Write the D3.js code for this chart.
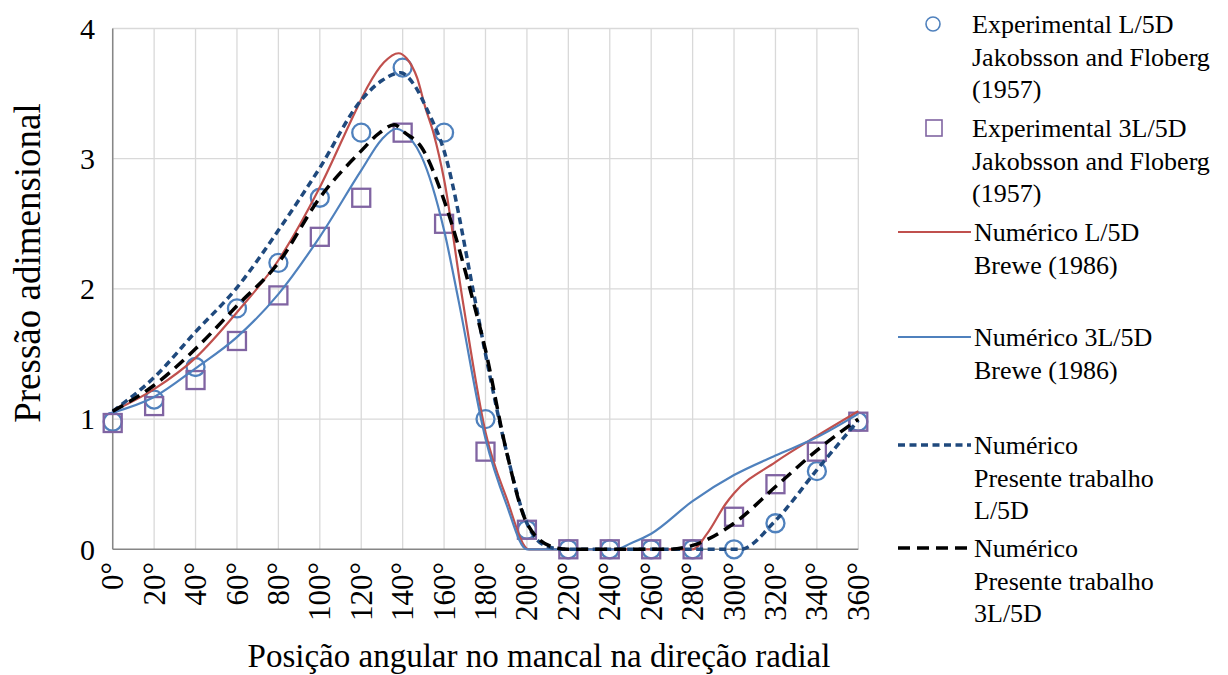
<!DOCTYPE html>
<html>
<head>
<meta charset="utf-8">
<script src="https://cdnjs.cloudflare.com/ajax/libs/d3/7.8.5/d3.min.js"></script>
<style>
  body { margin: 0; background: #fff; }
  text { font-family: "Liberation Serif", "Times New Roman", serif; fill: #000; }
</style>
</head>
<body>
<svg id="chart" width="1228" height="675"></svg>
<script>
// angular positions (categories) and experimental points
var angles = [0, 20, 40, 60, 80, 100, 120, 140, 160, 180, 200, 220, 240, 260, 280, 300, 320, 340, 360];
var expL5D  = [0.98, 1.15, 1.4, 1.85, 2.2, 2.7, 3.2, 3.7, 3.2, 1.0, 0.15, 0, 0, 0, 0, 0, 0.2, 0.6, 0.98];
var exp3L5D = [0.97, 1.1, 1.3, 1.6, 1.95, 2.4, 2.7, 3.2, 2.5, 0.75, 0.15, 0, 0, 0, 0, 0.25, 0.5, 0.75, 0.98];

// numerical curves, [angle, pressure]
var breweL5D = [[0,1.06],[20,1.23],[40,1.47],[60,1.82],[80,2.22],[100,2.78],[118,3.39],[123,3.55],[131,3.74],[138,3.81],[142,3.77],[147,3.62],[151,3.39],[155,3.19],[160,2.84],[169,1.91],[180,0.9],[190,0.4],[201,0],[280,0],[287,0.12],[296,0.35],[300,0.43],[320,0.67],[340,0.87],[360,1.06]];
var brewe3L5D = [[0,1.05],[20,1.17],[40,1.39],[60,1.63],[80,1.96],[100,2.4],[120,2.91],[130,3.15],[137,3.23],[144,3.15],[149,3.02],[160,2.45],[167,1.91],[180,0.85],[190,0.35],[200,0],[243,0],[250,0.045],[260,0.12],[280,0.37],[300,0.57],[320,0.72],[340,0.86],[360,1.04]];
var presL5D = [[0,1.06],[20,1.32],[40,1.67],[60,2.01],[80,2.45],[100,2.93],[120,3.45],[130,3.6],[139,3.66],[145,3.58],[152,3.37],[160,3.06],[175,1.91],[180,1.5],[190,0.76],[200,0.2],[210,0.02],[218,0],[303,0],[320,0.22],[340,0.61],[360,0.99]];
var pres3L5D = [[0,1.06],[20,1.26],[40,1.54],[60,1.87],[80,2.2],[100,2.7],[120,3.06],[129,3.2],[136,3.26],[141,3.2],[149,3.09],[160,2.68],[174,1.91],[180,1.53],[190,0.76],[200,0.2],[212,0.02],[220,0],[268,0],[280,0.03],[300,0.2],[320,0.48],[340,0.76],[360,1.0]];

var yTicks = [0, 1, 2, 3, 4];

var svg = d3.select("#chart");

var x = d3.scaleLinear().domain([0, 360]).range([112.7, 858.3]);
var y = d3.scaleLinear().domain([0, 4]).range([549.3, 28.5]);

// gridlines
svg.append("g").selectAll("line.v")
  .data(angles)
  .enter().append("line")
    .attr("x1", function(d){ return x(d); })
    .attr("x2", function(d){ return x(d); })
    .attr("y1", y(0)).attr("y2", y(4))
    .attr("stroke", "#d9d9d9").attr("stroke-width", 1.3);

svg.append("g").selectAll("line.h")
  .data(yTicks.slice(1))
  .enter().append("line")
    .attr("x1", x(0)).attr("x2", x(360))
    .attr("y1", function(d){ return y(d); })
    .attr("y2", function(d){ return y(d); })
    .attr("stroke", "#d9d9d9").attr("stroke-width", 1.3);

// axes lines
svg.append("line").attr("x1", x(0)).attr("x2", x(0)).attr("y1", y(4)).attr("y2", y(0))
  .attr("stroke", "#868686").attr("stroke-width", 1.5);
svg.append("line").attr("x1", x(0)).attr("x2", x(360)).attr("y1", y(0)).attr("y2", y(0))
  .attr("stroke", "#868686").attr("stroke-width", 1.5);

// tick labels
svg.append("g").selectAll("text")
  .data(yTicks)
  .enter().append("text")
    .attr("x", 95)
    .attr("y", function(d){ return y(d); })
    .attr("dy", "0.34em")
    .attr("text-anchor", "end")
    .style("font-size", "30px")
    .text(function(d){ return d; });

svg.append("g").selectAll("text")
  .data(angles)
  .enter().append("text")
    .attr("transform", function(d){ return "translate(" + x(d) + "," + 562 + ") rotate(-90)"; })
    .attr("dy", "0.34em")
    .attr("text-anchor", "end")
    .style("font-size", "31px")
    .text(function(d){ return d + "\u00b0"; });

// axis titles
svg.append("text")
  .attr("transform", "translate(40,263) rotate(-90)")
  .attr("text-anchor", "middle")
  .style("font-size", "37px")
  .text("Pressão adimensional");

svg.append("text")
  .attr("x", 539).attr("y", 667)
  .attr("text-anchor", "middle")
  .style("font-size", "33px")
  .text("Posição angular no mancal na direção radial");

// experimental markers
svg.append("g").selectAll("circle")
  .data(angles)
  .enter().append("circle")
    .attr("cx", function(d){ return x(d); })
    .attr("cy", function(d, i){ return y(expL5D[i]); })
    .attr("r", 9)
    .attr("fill", "none").attr("stroke", "#4f81bd").attr("stroke-width", 2.3);

svg.append("g").selectAll("rect")
  .data(angles)
  .enter().append("rect")
    .attr("x", function(d){ return x(d) - 9; })
    .attr("y", function(d, i){ return y(exp3L5D[i]) - 9; })
    .attr("width", 18).attr("height", 18)
    .attr("fill", "none").attr("stroke", "#8064a2").attr("stroke-width", 2.3);

// numerical curves
var line = d3.line()
  .x(function(d){ return x(d[0]); })
  .y(function(d){ return y(d[1]); })
  .curve(d3.curveMonotoneX);

var series = [
  { data: breweL5D,  color: "#c0504d", width: 2.2, dash: null },
  { data: brewe3L5D, color: "#4f81bd", width: 2.2, dash: null },
  { data: presL5D,   color: "#1f497d", width: 3.5, dash: "7,4.5" },
  { data: pres3L5D,  color: "#000000", width: 3.5, dash: "12,7" }
];

series.forEach(function(s){
  svg.append("path")
    .datum(s.data)
    .attr("d", line)
    .attr("fill", "none")
    .attr("stroke", s.color)
    .attr("stroke-width", s.width)
    .attr("stroke-dasharray", s.dash);
});

// legend
var legend = [
  { y: 24,  kind: "circle", lines: ["Experimental L/5D", "Jakobsson and Floberg", "(1957)"] },
  { y: 128, kind: "square", lines: ["Experimental 3L/5D", "Jakobsson and Floberg", "(1957)"] },
  { y: 232, kind: "line", s: series[0], lines: ["Numérico L/5D", "Brewe (1986)"] },
  { y: 337, kind: "line", s: series[1], lines: ["Numérico 3L/5D", "Brewe (1986)"] },
  { y: 445, kind: "line", s: series[2], lines: ["Numérico", "Presente trabalho", "L/5D"] },
  { y: 548, kind: "line", s: series[3], lines: ["Numérico", "Presente trabalho", "3L/5D"] }
];

legend.forEach(function(e){
  var g = svg.append("g");
  var tx = 972;
  if (e.kind === "circle") {
    g.append("circle").attr("cx", 933).attr("cy", e.y).attr("r", 7)
      .attr("fill", "none").attr("stroke", "#4f81bd").attr("stroke-width", 1.6);
  } else if (e.kind === "square") {
    g.append("rect").attr("x", 926).attr("y", e.y - 8).attr("width", 16).attr("height", 16)
      .attr("fill", "none").attr("stroke", "#8064a2").attr("stroke-width", 1.6);
  } else {
    tx = 974;
    g.append("line").attr("x1", 898).attr("x2", 971).attr("y1", e.y).attr("y2", e.y)
      .attr("stroke", e.s.color).attr("stroke-width", e.s.width)
      .attr("stroke-dasharray", e.s.dash);
  }
  g.selectAll("text")
    .data(e.lines)
    .enter().append("text")
      .attr("x", tx)
      .attr("y", function(d, i){ return e.y + 9 + i * 32.5; })
      .style("font-size", "26px")
      .text(function(d){ return d; });
});
</script>
</body>
</html>
